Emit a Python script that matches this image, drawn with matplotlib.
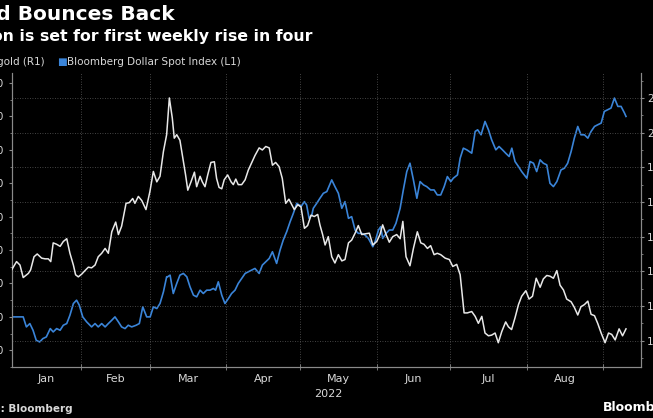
import matplotlib
matplotlib.use("Agg")
import matplotlib.pyplot as plt
import matplotlib.dates as mdates
import numpy as np
import pandas as pd

# days counted from 2022-01-01
gold_day = [2.7, 4.7, 6.1, 7.4, 9.5, 10.4, 11.8, 13.1, 14.9, 16.3,
            17.6, 18.6, 19.6, 21, 22.4, 23.7, 25.1, 26.4, 27.8, 28.7,
            29.8, 31.2, 32.5, 33.9, 35.2, 36.6, 37.9, 39.3, 40.7, 42,
            43.4, 45, 46.1, 47.4, 49.2, 50.5, 51.9, 52.8, 54.2, 55.6,
            57.3, 58.9, 60.3, 61.7, 63, 64.4, 65.7, 66.8,
            68, 68.8, 69.8, 71.1, 72.5, 73.4, 74.3, 75.6, 77, 77.9,
            79.3, 80.2, 81.3, 82.4, 83.7, 85.1, 86, 87, 88.1, 89.1,
            90.5, 91.9, 92.8, 93.8, 94.8, 96.2, 97.6, 98.9, 100.3, 101.6,
            103.3, 104.6, 106, 107.4, 108.7, 110, 111.4, 112.7, 114.1, 115.4,
            116.3, 117.6, 119, 120.3, 121.7, 123, 124.4, 125.7, 127.1,
            128, 129.1, 130.1, 131.4, 132.8, 134.1, 135.5, 136.9, 138.2, 139.6,
            140.9, 142.3, 143.6, 145, 146.3, 148.1, 149.5, 151.1, 152.4, 153.5,
            154.9, 156.2, 157.6, 159.2, 160.6, 161.7, 163, 164.6, 166, 167.6,
            169, 170.3, 171.7, 173, 174.4, 175.7, 177.1, 178.9, 180.6, 182,
            183.6, 185, 186.6, 187.9, 189.7,
            191.1, 192.4, 193.8, 195.1, 196.5, 197.8, 199.2, 200.5, 201.9, 203.5,
            204.6, 205.9, 207.3, 208.7, 210, 211.7, 213, 214.4, 215.9, 217.5,
            218.8, 220.2, 221.5, 222.9, 224.3, 225.6, 227, 228.3, 230.1, 231.4,
            232.8, 234.1, 235.5, 236.9, 238.2, 239.6, 240.9, 242.3, 243.9, 245.3,
            246.6, 248, 249.6, 251, 252.4]
gold = [1802, 1814, 1809, 1791, 1797, 1802, 1821, 1825, 1819, 1818,
        1818, 1814, 1841, 1839, 1836, 1843, 1847, 1826, 1809, 1795,
        1792, 1796, 1801, 1806, 1805, 1809, 1821, 1826, 1833, 1826,
        1857, 1871, 1853, 1865, 1898, 1899, 1905, 1898, 1908, 1902,
        1889, 1915, 1944, 1929, 1937, 1973, 1997, 2050,
        2021, 1992, 1997, 1989, 1958, 1939, 1917, 1929, 1943, 1922,
        1937, 1929, 1922, 1939, 1957, 1958, 1934, 1921, 1919, 1932,
        1939, 1929, 1925, 1933, 1925, 1925, 1932, 1946, 1957, 1967,
        1978, 1975, 1980, 1978, 1953, 1957, 1951, 1934, 1898, 1904,
        1898, 1889, 1896, 1893, 1862, 1866, 1881, 1879, 1882,
        1867, 1853, 1838, 1850, 1821, 1812, 1824, 1815, 1817, 1841,
        1845, 1855, 1866, 1853, 1854, 1855, 1838, 1843, 1853, 1867,
        1853, 1842, 1850, 1853, 1847, 1872, 1821, 1808, 1833, 1857,
        1841, 1839, 1833, 1837, 1824, 1826, 1824, 1819, 1817, 1807,
        1810, 1795, 1740, 1740, 1742,
        1735, 1725, 1735, 1711, 1707, 1708, 1711, 1697, 1713, 1727,
        1720, 1716, 1733, 1752, 1764, 1772, 1760, 1764, 1790, 1777,
        1789, 1794, 1793, 1790, 1801, 1780, 1773, 1760, 1756, 1748,
        1737, 1749, 1752, 1757, 1738, 1736, 1725, 1711, 1697, 1711,
        1709, 1701, 1717, 1707, 1717]

dollar_day = [2.7, 4.7, 6.1, 7.4, 8.7, 10.1, 11.4, 12.7, 14.1, 15.4,
              16.8, 18.4, 19.6, 21, 22.4, 23.7, 25.1, 26.4, 27.8, 29.1,
              30.2, 31.6, 33.2, 35.2, 36.6, 37.9, 39.3, 40.7, 42, 43.4,
              44.7, 46.1, 47.4, 48.8, 50.1, 51.5, 53.3, 54.6, 56, 57.6,
              59, 60.3, 61.7, 63, 64.4, 65.7,
              66.1, 67.1, 68.4, 69.8, 71.1, 72.5, 73.9, 75.2, 76.6, 77.9,
              79.3, 80.6, 82, 83.3, 84.7, 85.6, 86.7, 88.1, 89.4, 90.8,
              92.1, 93.5, 94.8, 96.2, 97.6, 98.9, 100.3, 101.6, 103.3, 104.6,
              106, 107.4, 108.7, 110.4, 111.8, 113.1, 114.5, 115.9, 117.2, 118.6,
              119.5, 120.3, 121.7, 122.6, 123.6, 124.7, 125.3, 126.7,
              128, 129.4, 130.8, 132.8, 134.1, 135.5, 136.9, 138.2, 139.6, 140.9,
              142.3, 143.6, 145, 146.3, 147.7, 149.5, 150.4, 151.8, 152.7, 153.5,
              154.9, 156.2, 157.6, 158.9, 160.6, 161.9, 163.3, 164.6, 166, 167.4,
              168.7, 170.1, 171.4, 173, 174.4, 175.7, 177.1, 178.5, 179.8, 181.2,
              182.2, 183.9, 185, 186.3, 187.7, 189.7,
              191.1, 192.1, 193.5, 195.1, 196.5, 197.8, 199.5, 200.8, 202.2, 203.5,
              204.9, 206, 207.3, 208.7, 210, 212.1, 213.4, 214.8, 216.1, 217.5,
              218.8, 220.2, 221.5, 222.9, 224.3, 226, 227.4, 228.7, 230.1, 231.4,
              232.8, 234.1, 235.5, 236.9, 238.2, 239.6, 240.9, 242.3, 243.6, 245,
              246.3, 247.7, 249.1, 250.4, 251.8, 252.4]
dollar = [1160, 1160, 1160, 1160, 1154, 1156, 1152, 1146, 1145, 1147,
          1148, 1153, 1151, 1153, 1152, 1155, 1156, 1161, 1168, 1170,
          1167, 1160, 1157, 1154, 1156, 1154, 1156, 1154, 1156, 1158,
          1160, 1157, 1154, 1153, 1155, 1154, 1155, 1156, 1166, 1160,
          1160, 1166, 1165, 1168, 1175, 1184,
          1184, 1185, 1174, 1180, 1185, 1186, 1184, 1178, 1173, 1172,
          1176, 1174, 1176, 1176, 1177, 1176, 1181, 1173, 1168, 1171,
          1174, 1176, 1180, 1183, 1186, 1187, 1188, 1189, 1186, 1191,
          1193, 1195, 1199, 1192, 1200, 1206, 1211, 1217, 1222, 1228,
          1227, 1226, 1229, 1227, 1219, 1221, 1225, 1228,
          1231, 1234, 1235, 1242, 1238, 1234, 1225, 1229, 1219, 1220,
          1212, 1210, 1210, 1209, 1207, 1202, 1205, 1212, 1214, 1207,
          1210, 1212, 1212, 1216, 1225, 1236, 1247, 1252, 1242, 1231,
          1241, 1239, 1238, 1236, 1236, 1233, 1233, 1238, 1244, 1241,
          1243, 1245, 1255, 1261, 1260, 1258,
          1271, 1272, 1269, 1277, 1272, 1266, 1260, 1262, 1260, 1258,
          1256, 1261, 1253, 1250, 1247, 1243, 1253, 1252, 1247, 1254,
          1252, 1251, 1240, 1238, 1241, 1248, 1249, 1252, 1259, 1267,
          1274, 1269, 1269, 1267, 1271, 1274, 1275, 1276, 1283, 1284,
          1285, 1291, 1286, 1286, 1282, 1280]

months = ["Jan", "Feb", "Mar", "Apr", "May", "Jun", "Jul", "Aug"]
left_ticks = [1140, 1160, 1180, 1200, 1220, 1240, 1260, 1280, 1300]
right_ticks = [1700, 1750, 1800, 1850, 1900, 1950, 2000, 2050]

W, H = 653, 418
BG = "black"
BLUE = "#3a84d8"
WHITE = "#e8e8e8"
GREY = "#8a8a8a"
TXT = "#d8d8d8"

start = pd.Timestamp("2022-01-01")
gold_dates = start + pd.to_timedelta(gold_day, unit="D")
dollar_dates = start + pd.to_timedelta(dollar_day, unit="D")


def px(x, y):
    return x / W, 1 - y / H


fig = plt.figure(figsize=(W / 100, H / 100), dpi=100, facecolor=BG)
ax = fig.add_axes([12 / W, 51 / H, 629 / W, 294 / H])
ax.set_facecolor(BG)
ax2 = ax.twinx()

ax.plot(dollar_dates, dollar, color=BLUE, lw=1.2, zorder=3)
ax2.plot(gold_dates, gold, color=WHITE, lw=1.1, zorder=3)

xstart = start + pd.Timedelta(days=2.85)
ax.set_xlim(xstart, start + pd.Timedelta(days=258.5))
ax.set_ylim(1131, 1306)
ax2.set_ylim(1662, 2086)

for a in (ax, ax2):
    a.spines["top"].set_visible(False)
    for s in ("left", "right", "bottom"):
        a.spines[s].set_color(GREY)
        a.spines[s].set_linewidth(0.8)

# y axes
ax.set_yticks(left_ticks)
ax.set_yticks(np.arange(1130, 1306, 10), minor=True)
ax.tick_params(axis="y", which="major", colors=GREY, labelcolor=TXT, labelsize=7.5,
               length=2.5, pad=3, width=0.8)
ax.tick_params(axis="y", which="minor", colors=GREY, length=1.5, width=0.6)
ax2.set_yticks(right_ticks)
ax2.set_yticks(np.arange(1675, 2086, 25), minor=True)
ax2.tick_params(axis="y", which="major", colors=GREY, labelcolor=TXT, labelsize=7.5,
                length=2.5, pad=2, width=0.8)
ax2.tick_params(axis="y", which="minor", colors=GREY, length=1.5, width=0.6)
ax2.grid(axis="y", color="#5a5a5a", linestyle=(0, (1, 2)), linewidth=0.6)

# x axis: month boundaries, labels centred in each visible month
month_starts = pd.date_range("2022-01-01", "2022-09-01", freq="MS")
x0 = mdates.date2num(xstart)
mids = []
for a_, b_ in zip(month_starts[:-1], month_starts[1:]):
    lo = max(mdates.date2num(a_), x0)
    mids.append((lo + mdates.date2num(b_)) / 2)
ax.set_xticks(month_starts[1:])
ax.set_xticks(mids, minor=True)
ax.set_xticklabels([])
ax.set_xticklabels(months, minor=True)
ax.tick_params(axis="x", which="major", colors=GREY, direction="inout", length=5, width=0.6)
ax.tick_params(axis="x", which="minor", length=0, pad=5, labelcolor=TXT, labelsize=8)
ax.grid(axis="x", which="major", color="#5a5a5a", linestyle=(0, (1, 2)), linewidth=0.6)

# texts (the reference is cropped on the left)
fig.text(*px(175, 15), "Gold Bounces Back", color="white", fontsize=14.5,
         fontweight="bold", ha="right", va="center")
fig.text(*px(312, 37), "Bullion is set for first weekly rise in four", color="white",
         fontsize=11.3, fontweight="bold", ha="right", va="center")
fig.text(*px(45, 62), "\u25a0 Spot gold (R1)", color=TXT, fontsize=7.5, ha="right", va="center")
fig.text(*px(57, 62), "\u25a0", color=BLUE, fontsize=7.5, ha="left", va="center")
fig.text(*px(67, 62), "Bloomberg Dollar Spot Index (L1)", color=TXT, fontsize=7.5,
         ha="left", va="center")
fig.text(*px(328, 394), "2022", color=TXT, fontsize=8, ha="center", va="center")
fig.text(*px(73, 409), "Source: Bloomberg", color=TXT, fontsize=7.5, fontweight="bold",
         ha="right", va="center")
fig.text(*px(603, 407), "Bloomberg", color="white", fontsize=9, fontweight="bold",
         ha="left", va="center")

fig.savefig("out.png", dpi=100, facecolor=BG)
